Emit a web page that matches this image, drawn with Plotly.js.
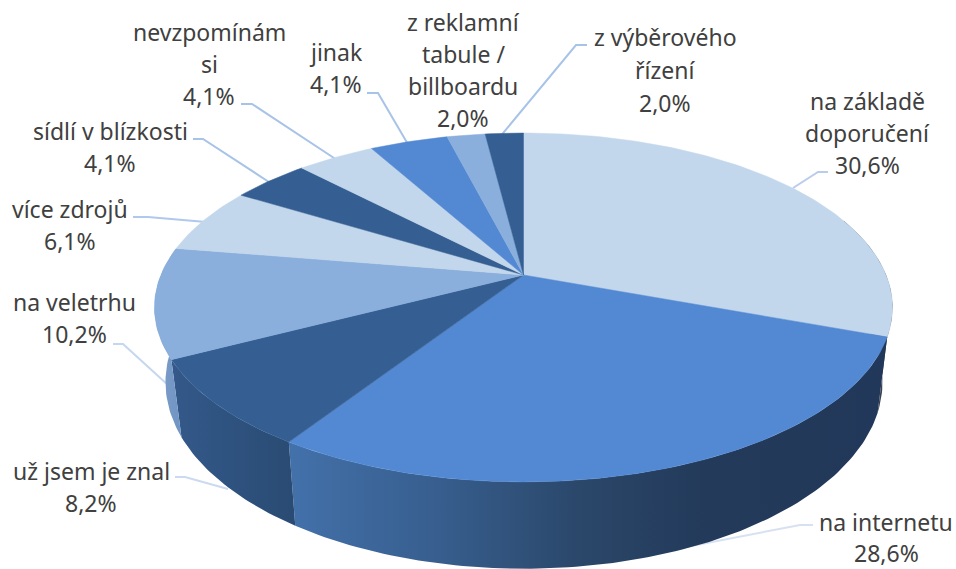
<!DOCTYPE html>
<html>
<head>
<meta charset="utf-8">
<script src="https://cdn.plot.ly/plotly-3.0.1.min.js"></script>
<style>html,body{margin:0;padding:0;background:#fff}#chart{width:956px;height:569px}</style>
</head>
<body>
<div id="chart"></div>
<script>
// DATA
const categories = ["na základě doporučení","na internetu","už jsem je znal","na veletrhu","více zdrojů","sídlí v blízkosti","nevzpomínám si","jinak","z reklamní tabule / billboardu","z výběrového řízení"];
const values = [30.6,28.6,8.2,10.2,6.1,4.1,4.1,4.1,2.0,2.0];
const labelLines = [["na základě","doporučení"],["na internetu"],["už jsem je znal"],["na veletrhu"],["více zdrojů"],["sídlí v blízkosti"],["nevzpomínám","si"],["jinak"],["z reklamní","tabule /","billboardu"],["z výběrového","řízení"]];

// STYLE / LAYOUT
const topColors = ["#C2D6EC","#5389D2","#355F92","#8AAFDC","#C2D6EC","#355F92","#C2D6EC","#5389D2","#8AAFDC","#355F92"];
const wallScales = {
  0:[[0,"#3B4350"],[1,"#3B4350"]],
  1:[[0,"#4371AA"],[0.25,"#375E8E"],[0.5,"#2A4668"],[0.7,"#233A5A"],[1,"#22385A"]],
  2:[[0,"#34598A"],[1,"#294B73"]],
  3:[[0,"#7C9DC9"],[1,"#6E93C2"]]
};
const labelX = [867,886,91,74,70,110,209,336,463,665];
const labelY = [101,521.5,471,302,209,131,32,52,22,37];
const lineStep = [32,31.5,31.5,32,32,31.5,32,32,32,33];
const leaders = [
  {x:[828,818,793],y:[172,172,188],c:"#B8CDEC"},
  {x:[813,800,655],y:[525,525,553],c:"#D6E2F2"},
  {x:[175,185,228],y:[477,477,489],c:"#CBDAF0"},
  {x:[113,123,168],y:[344,344,385],c:"#C5D7EE"},
  {x:[133,148,206],y:[217,217,222],c:"#B0C8EC"},
  {x:[193,203,272],y:[139,139,184],c:"#A8C3E8"},
  {x:[241,252,337],y:[104,104,160],c:"#A8C3E8"},
  {x:[367,378,409],y:[93,93,146],c:"#A8C3E8"},
  {x:[587,576,499],y:[45,45,138],c:"#A8C3E8"}
];
const topP = {cx:523.5,cy:275,a:168.4,d:362.6,c:-0.186};
const botP = {cx:524,cy:346.5,a:180,d:352,c:-0.19};

function project(p,deg){
  const t=deg*Math.PI/180, x=Math.sin(t), y=-Math.cos(t), w=1+p.c*y;
  return [p.cx+p.d*x/w, p.cy+p.a*y/w];
}
function arc(p,from,to){
  const n=Math.max(2,Math.ceil(Math.abs(to-from)));
  const out=[];
  for(let i=0;i<=n;i++) out.push(project(p,from+(to-from)*i/n));
  return out;
}
const total=values.reduce((a,b)=>a+b,0);
let cum=0;
const spans=values.map(v=>{const s=[cum/total*360,(cum+v)/total*360];cum+=v;return s;});

const traces=[];
// leader lines, beneath the pie so that they end at its edge
leaders.forEach(l=>{
  traces.push({type:"scatter",mode:"lines",x:l.x,y:l.y,line:{width:2,color:l.c},hoverinfo:"skip",showlegend:false});
});
// walls (only the front-facing part of each slice)
spans.forEach((s,i)=>{
  if(!wallScales[i]) return;
  const from=Math.max(s[0],70), to=Math.min(s[1],290);
  if(to<=from) return;
  const pts=arc(topP,from,to).concat(arc(botP,to,from));
  traces.push({type:"scatter",mode:"lines",x:pts.map(q=>q[0]),y:pts.map(q=>q[1]),
    fill:"toself",fillgradient:{type:"horizontal",colorscale:wallScales[i]},
    line:{width:0},hoverinfo:"skip",showlegend:false,name:categories[i]+" (bok)"});
});
// top faces
spans.forEach((s,i)=>{
  const pts=[[topP.cx,topP.cy]].concat(arc(topP,s[0],s[1]));
  pts.push([topP.cx,topP.cy]);
  traces.push({type:"scatter",mode:"lines",x:pts.map(q=>q[0]),y:pts.map(q=>q[1]),
    fill:"toself",fillcolor:topColors[i],line:{width:0.5,color:topColors[i]},
    hoverinfo:"skip",showlegend:false,name:categories[i]});
});
// labels
const annotations=[];
categories.forEach((c,i)=>{
  const pct=values[i].toFixed(1).replace(".",",")+"%";
  labelLines[i].concat([pct]).forEach((t,j)=>{
    annotations.push({x:labelX[i],y:labelY[i]+j*lineStep[i],xref:"x",yref:"y",text:t,showarrow:false,
      xanchor:"center",yanchor:"middle",font:{family:"Noto Sans, Open Sans, sans-serif",size:23,color:"#404040"}});
  });
});
Plotly.newPlot("chart",traces,{
  width:956,height:569,margin:{l:0,r:0,t:0,b:0},showlegend:false,
  paper_bgcolor:"#fff",plot_bgcolor:"#fff",
  xaxis:{range:[0,956],visible:false,fixedrange:true},
  yaxis:{range:[569,0],visible:false,fixedrange:true},
  annotations:annotations
},{displayModeBar:false,staticPlot:true});
</script>
</body>
</html>
